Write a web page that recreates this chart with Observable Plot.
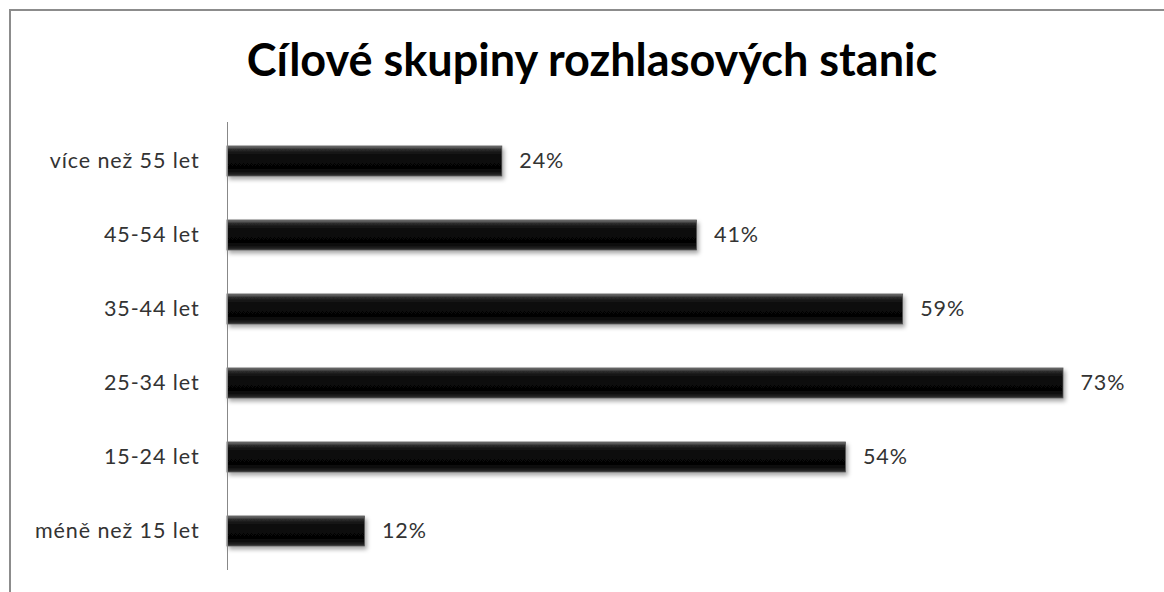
<!DOCTYPE html>
<html>
<head>
<meta charset="utf-8">
<script src="https://cdn.jsdelivr.net/npm/d3@7"></script>
<script src="https://cdn.jsdelivr.net/npm/@observablehq/plot@0.6"></script>
<style>
  html, body { margin: 0; padding: 0; background: #fff; }
  body { width: 1164px; height: 592px; overflow: hidden; position: relative; }
  #frame { position: absolute; left: 9px; top: 9px; width: 1200px; height: 700px;
           border-left: 2px solid #8c8c8c; border-top: 2px solid #8c8c8c; pointer-events: none; }
  #title { height: 110px; box-sizing: border-box; padding-top: 33px; padding-left: 20px; text-align: center;
           font-family: Lato, "Open Sans", sans-serif; font-weight: 700; font-size: 45px; color: #000;
           line-height: 52px; white-space: nowrap; }
  #chart svg { display: block; }
</style>
</head>
<body>
<div id="title">Cílové skupiny rozhlasových stanic</div>
<div id="chart"></div>
<div id="frame"></div>
<script>
const categories = ["více než 55 let", "45-54 let", "35-44 let", "25-34 let", "15-24 let", "méně než 15 let"];
const values = [24, 41, 59, 73, 54, 12];
const labels = ["24%", "41%", "59%", "73%", "54%", "12%"];

const data = categories.map((c, i) => ({category: c, value: values[i], label: labels[i]}));

const plot = Plot.plot({
  width: 1164,
  height: 482,
  marginTop: 12,
  marginBottom: 22,
  marginLeft: 227,
  marginRight: 101,
  style: {fontFamily: "Lato, 'Open Sans', sans-serif", fontSize: "21.5px", color: "#333", letterSpacing: "0.9px"},
  x: {domain: [0, 73], axis: null},
  y: {domain: categories, paddingInner: 0.6, paddingOuter: 0.3, align: 0.5, label: null, tickSize: 0, tickPadding: 28},
  marks: [
    Plot.barX(data, {x: "value", y: "category", fill: "url(#bevel)", stroke: "#555", strokeWidth: 0.8}),
    Plot.text(data, {x: "value", y: "category", text: "label", textAnchor: "start", dx: 17, fill: "#333", fontSize: 21.5}),
    Plot.ruleX([0], {stroke: "#888", strokeWidth: 1})
  ]
});

const defs = d3.create("svg:defs");
const g = defs.append("linearGradient").attr("id", "bevel").attr("x1", 0).attr("y1", 0).attr("x2", 0).attr("y2", 1);
[[0, "#7a7a7a"], [0.12, "#2a2a2a"], [0.3, "#0a0a0a"], [0.75, "#050505"], [0.9, "#151515"], [1, "#3a3a3a"]]
  .forEach(([o, c]) => g.append("stop").attr("offset", o).attr("stop-color", c));
const f = defs.append("filter").attr("id", "shadow").attr("x", "-5%").attr("y", "-30%").attr("width", "115%").attr("height", "180%");
f.append("feDropShadow").attr("dx", 2).attr("dy", 3).attr("stdDeviation", 2).attr("flood-color", "#000").attr("flood-opacity", 0.35);
plot.insertBefore(defs.node(), plot.firstChild);
d3.select(plot).selectAll("g[aria-label='bar'] rect").attr("filter", "url(#shadow)");
d3.select(plot).selectAll("g[aria-label='y-axis tick label'] text").attr("fill", "#333");

document.getElementById("chart").appendChild(plot);
</script>
</body>
</html>
